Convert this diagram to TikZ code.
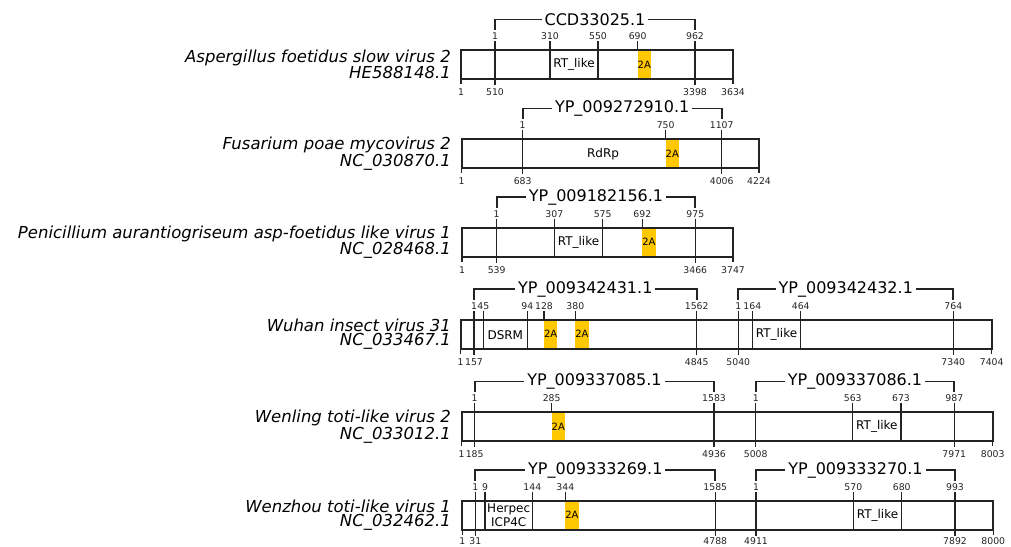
\documentclass[tikz,border=0pt]{standalone}
\usepackage{fontspec}
\setmainfont{DejaVu Sans}
\usetikzlibrary{positioning}
\definecolor{twoayellow}{RGB}{255, 200, 0}
\definecolor{linegray}{RGB}{35, 35, 35}

\begin{document}
\begin{tikzpicture}[x=1pt, y=-1pt,
  genome/.style={draw=linegray, line width=1.8pt},
  orfline/.style={draw=linegray, line width=1.1pt},
  endtick/.style={draw=linegray, line width=1.4pt},
  bracket/.style={draw=linegray, line width=1.8pt},
  numlab/.style={font=\fontsize{9.3}{9.3}\selectfont, inner sep=0pt, text=linegray},
  domlab/.style={font=\fontsize{12}{14}\selectfont, inner sep=0pt, align=center},
  twoalab/.style={font=\fontsize{10}{10}\selectfont, inner sep=0pt},
  orfname/.style={font=\fontsize{16}{16}\selectfont, fill=white, inner xsep=3pt, inner ysep=0pt},
  species/.style={font=\fontsize{16.5}{14.5}\selectfont\itshape, align=right, anchor=east, inner sep=0pt}]

  \useasboundingbox (0,0) rectangle (1011,546);

  % Aspergillus foetidus slow virus 2
  \begin{scope}[shift={(0,50)}]
    \node[species] (sp1) at (451,14.5) {Aspergillus foetidus slow virus 2\\HE588148.1};
    \fill[twoayellow] (637.7,0) rectangle ++(13.3,29);
    \node[twoalab] (r1a1) at (644.3,14.5) {2A};
    \draw[orfline] (637.7,-9) -- (637.7,0);
    \node[numlab] (r1a1t) at (637.7,-13.5) {690};
    \draw[genome] (461,0) rectangle (733,29);
    \foreach \x/\b [count=\i] in {461/1, 733/3634} {
      \draw[endtick] (\x,29) -- (\x,34);
      \node[numlab] (r1e\i) at (\x,42) {\b};
    }
    \foreach \x/\t/\b [count=\i] in {495/1/510, 695/962/3398} {
      \draw[orfline] (\x,-9) -- (\x,35);
      \node[numlab] (r1t\i) at (\x,-13.5) {\t};
      \node[numlab] (r1b\i) at (\x,42) {\b};
    }
    \foreach \x/\t [count=\i] in {550/310, 598/550} {
      \draw[orfline] (\x,-9) -- (\x,29);
      \node[numlab] (r1d\i) at (\x,-13.5) {\t};
    }
    \node[domlab] (r1rt) at (574,14.5) {RT\_like};
    \draw[bracket] (495,-20) |- (695,-30.5) -- (695,-20);
    \node[orfname] (orf1) at (595,-30.5) {CCD33025.1};
  \end{scope}

  % Fusarium poae mycovirus 2
  \begin{scope}[shift={(0,139)}]
    \node[species] (sp2) at (451,14.5) {Fusarium poae mycovirus 2\\NC\_030870.1};
    \fill[twoayellow] (665.7,0) rectangle ++(13.3,29);
    \node[twoalab] (r2a1) at (672.3,14.5) {2A};
    \draw[orfline] (665.7,-9) -- (665.7,0);
    \node[numlab] (r2a1t) at (665.7,-13.5) {750};
    \draw[genome] (461.7,0) rectangle (759,29);
    \foreach \x/\b [count=\i] in {461.7/1, 759/4224} {
      \draw[endtick] (\x,29) -- (\x,34);
      \node[numlab] (r2e\i) at (\x,42) {\b};
    }
    \foreach \x/\t/\b [count=\i] in {522.7/1/683, 721.7/1107/4006} {
      \draw[orfline] (\x,-9) -- (\x,35);
      \node[numlab] (r2t\i) at (\x,-13.5) {\t};
      \node[numlab] (r2b\i) at (\x,42) {\b};
    }
    \node[domlab] (r2rdrp) at (603,15.5) {RdRp};
    \draw[bracket] (522.7,-20) |- (721.7,-30.5) -- (721.7,-20);
    \node[orfname] (orf2) at (622.2,-30.5) {YP\_009272910.1};
  \end{scope}

  % Penicillium aurantiogriseum asp-foetidus like virus 1
  \begin{scope}[shift={(0,227.7)}]
    \node[species] (sp3) at (451,14.5) {Penicillium aurantiogriseum asp-foetidus like virus 1\\NC\_028468.1};
    \fill[twoayellow] (642.3,0) rectangle ++(13.3,29);
    \node[twoalab] (r3a1) at (648.9,14.5) {2A};
    \draw[orfline] (642.3,-9) -- (642.3,0);
    \node[numlab] (r3a1t) at (642.3,-13.5) {692};
    \draw[genome] (462,0) rectangle (733,29);
    \foreach \x/\b [count=\i] in {462/1, 733/3747} {
      \draw[endtick] (\x,29) -- (\x,34);
      \node[numlab] (r3e\i) at (\x,42) {\b};
    }
    \foreach \x/\t/\b [count=\i] in {496.7/1/539, 695.3/975/3466} {
      \draw[orfline] (\x,-9) -- (\x,35);
      \node[numlab] (r3t\i) at (\x,-13.5) {\t};
      \node[numlab] (r3b\i) at (\x,42) {\b};
    }
    \foreach \x/\t [count=\i] in {554.3/307, 602.7/575} {
      \draw[orfline] (\x,-9) -- (\x,29);
      \node[numlab] (r3d\i) at (\x,-13.5) {\t};
    }
    \node[domlab] (r3rt) at (578.5,14.5) {RT\_like};
    \draw[bracket] (496.7,-20) |- (695.3,-30.5) -- (695.3,-20);
    \node[orfname] (orf3) at (596,-30.5) {YP\_009182156.1};
  \end{scope}

  % Wuhan insect virus 31
  \begin{scope}[shift={(0,319.7)}]
    \node[species] (sp4) at (451,14.5) {Wuhan insect virus 31\\NC\_033467.1};
    \foreach \x/\t [count=\i] in {544/128, 575.3/380} {
      \fill[twoayellow] (\x,0) rectangle ++(13.3,29);
      \node[twoalab] (r4a\i) at ({\x+6.65},14.5) {2A};
      \draw[orfline] (\x,-9) -- (\x,0);
      \node[numlab] (r4a\i t) at (\x,-13.5) {\t};
    }
    \draw[genome] (460.7,0) rectangle (991.7,29);
    \foreach \x/\b [count=\i] in {460.7/1, 991.7/7404} {
      \draw[endtick] (\x,29) -- (\x,34);
      \node[numlab] (r4e\i) at (\x,42) {\b};
    }
    \foreach \x/\t/\b [count=\i] in {474/1/157, 696.7/1562/4845, 738.3/1/5040, 953.3/764/7340} {
      \draw[orfline] (\x,-9) -- (\x,35);
      \node[numlab] (r4t\i) at (\x,-13.5) {\t};
      \node[numlab] (r4b\i) at (\x,42) {\b};
    }
    \foreach \x/\t [count=\i] in {483.3/45, 527.3/94, 752.3/164, 800.7/464} {
      \draw[orfline] (\x,-9) -- (\x,29);
      \node[numlab] (r4d\i) at (\x,-13.5) {\t};
    }
    \node[domlab] (r4dsrm) at (505.3,15.5) {DSRM};
    \node[domlab] (r4rt) at (776.5,14.5) {RT\_like};
    \draw[bracket] (474,-20) |- (696.7,-30.5) -- (696.7,-20);
    \node[orfname] (orf4) at (585.3,-30.5) {YP\_009342431.1};
    \draw[bracket] (738.3,-20) |- (953.3,-30.5) -- (953.3,-20);
    \node[orfname] (orf5) at (845.8,-30.5) {YP\_009342432.1};
  \end{scope}

  % Wenling toti-like virus 2
  \begin{scope}[shift={(0,412)}]
    \node[species] (sp5) at (451,14.5) {Wenling toti-like virus 2\\NC\_033012.1};
    \fill[twoayellow] (551.7,0) rectangle ++(13.3,29);
    \node[twoalab] (r5a1) at (558.3,14.5) {2A};
    \draw[orfline] (551.7,-9) -- (551.7,0);
    \node[numlab] (r5a1t) at (551.7,-13.5) {285};
    \draw[genome] (461.7,0) rectangle (992.7,29);
    \foreach \x/\b [count=\i] in {461.7/1, 992.7/8003} {
      \draw[endtick] (\x,29) -- (\x,34);
      \node[numlab] (r5e\i) at (\x,42) {\b};
    }
    \foreach \x/\t/\b [count=\i] in {474.7/1/185, 714/1583/4936, 755.7/1/5008, 954.3/987/7971} {
      \draw[orfline] (\x,-9) -- (\x,35);
      \node[numlab] (r5t\i) at (\x,-13.5) {\t};
      \node[numlab] (r5b\i) at (\x,42) {\b};
    }
    \foreach \x/\t [count=\i] in {852.7/563, 901/673} {
      \draw[orfline] (\x,-9) -- (\x,29);
      \node[numlab] (r5d\i) at (\x,-13.5) {\t};
    }
    \node[domlab] (r5rt) at (876.9,14.5) {RT\_like};
    \draw[bracket] (474.7,-20) |- (714,-30.5) -- (714,-20);
    \node[orfname] (orf6) at (594.4,-30.5) {YP\_009337085.1};
    \draw[bracket] (755.7,-20) |- (954.3,-30.5) -- (954.3,-20);
    \node[orfname] (orf7) at (855,-30.5) {YP\_009337086.1};
  \end{scope}

  % Wenzhou toti-like virus 1
  \begin{scope}[shift={(0,500.7)}]
    \node[species] (sp6) at (451,14.5) {Wenzhou toti-like virus 1\\NC\_032462.1};
    \fill[twoayellow] (565.3,0) rectangle ++(13.3,29);
    \node[twoalab] (r6a1) at (571.9,14.5) {2A};
    \draw[orfline] (565.3,-9) -- (565.3,0);
    \node[numlab] (r6a1t) at (565.3,-13.5) {344};
    \draw[genome] (462.3,0) rectangle (993.3,29);
    \foreach \x/\b [count=\i] in {462.3/1, 993.3/8000} {
      \draw[endtick] (\x,29) -- (\x,34);
      \node[numlab] (r6e\i) at (\x,40) {\b};
    }
    \foreach \x/\t/\b [count=\i] in {475.3/1/31, 715.3/1585/4788, 756/1/4911, 955/993/7892} {
      \draw[orfline] (\x,-9) -- (\x,35);
      \node[numlab] (r6t\i) at (\x,-13.5) {\t};
      \node[numlab] (r6b\i) at (\x,40) {\b};
    }
    \foreach \x/\t [count=\i] in {485/9, 532.3/144, 853.3/570, 901.7/680} {
      \draw[orfline] (\x,-9) -- (\x,29);
      \node[numlab] (r6d\i) at (\x,-13.5) {\t};
    }
    \node[domlab] (r6herp) at (508.7,15) {Herpec\\ICP4C};
    \node[domlab] (r6rt) at (877.5,14.5) {RT\_like};
    \draw[bracket] (475.3,-20) |- (715.3,-30.5) -- (715.3,-20);
    \node[orfname] (orf8) at (595.3,-30.5) {YP\_009333269.1};
    \draw[bracket] (756,-20) |- (955,-30.5) -- (955,-20);
    \node[orfname] (orf9) at (855.5,-30.5) {YP\_009333270.1};
  \end{scope}
\end{tikzpicture}
\end{document}
